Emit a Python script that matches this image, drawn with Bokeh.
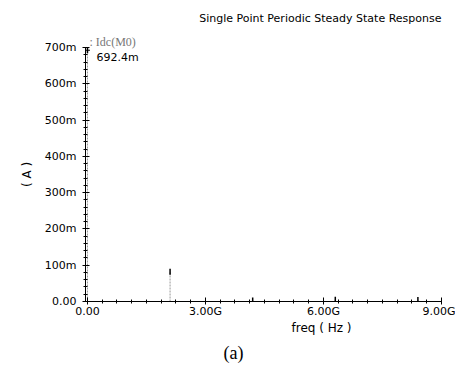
from bokeh.plotting import figure
from bokeh.models import Range1d, FixedTicker, Label, Title
from bokeh.embed import file_html
from bokeh.resources import INLINE
import math

# Data
freq_hz = [0.0, 2.1e9, 4.2e9, 6.3e9, 8.4e9]
idc_a = [0.6924, 0.082, 0.003, 0.005, 0.004]
x_ticks = [0, 3e9, 6e9, 9e9]
x_tick_labels = ["0.00", "3.00G", "6.00G", "9.00G"]
y_ticks = [0.0, 0.1, 0.2, 0.3, 0.4, 0.5, 0.6, 0.7]
y_tick_labels = ["0.00", "100m", "200m", "300m", "400m", "500m", "600m", "700m"]
title_text = "Single Point Periodic Steady State Response"
legend_text = ": Idc(M0)"
marker_text = "692.4m"

FONT = "DejaVu Sans"
FL = 85

p = figure(width=455, height=370, output_backend="svg", toolbar_location=None,
           x_range=Range1d(-0.05e9, 9e9), y_range=Range1d(0, 0.70),
           min_border_left=FL, min_border_right=14, min_border_top=47,
           min_border_bottom=69)
p.outline_line_color = None
p.xgrid.visible = False
p.ygrid.visible = False
p.background_fill_color = "white"
p.border_fill_color = "white"

for ax in (p.xaxis[0], p.yaxis[0]):
    ax.axis_line_color = "black"
    ax.major_tick_line_color = "black"
    ax.minor_tick_line_color = "black"
    ax.major_tick_in = 4
    ax.major_tick_out = 3
    ax.minor_tick_in = 2
    ax.minor_tick_out = 2
    ax.major_label_text_font = FONT
    ax.major_label_text_font_size = "11px"
    ax.major_label_text_color = "black"

p.xaxis.ticker = FixedTicker(ticks=x_ticks,
                             minor_ticks=[i * 0.375e9 for i in range(25)])
p.xaxis.major_label_overrides = {t: l for t, l in zip(x_ticks, x_tick_labels)}
p.xaxis.major_label_standoff = 0

p.yaxis.ticker = FixedTicker(ticks=y_ticks,
                             minor_ticks=[i * 0.02 for i in range(36)])
p.yaxis.major_label_overrides = {t: l for t, l in zip(y_ticks, y_tick_labels)}
p.yaxis.major_label_standoff = 6
p.yaxis.axis_label = "( A )"
p.yaxis.axis_label_text_font = FONT
p.yaxis.axis_label_text_font_size = "12px"
p.yaxis.axis_label_text_font_style = "normal"
p.yaxis.axis_label_text_color = "black"
p.yaxis.axis_label_standoff = 8

# stems
p.segment(x0=freq_hz, y0=[0] * len(freq_hz), x1=freq_hz, y1=idc_a,
          line_color="#999999", line_dash="2 1", line_width=1)
p.scatter(x=freq_hz, y=idc_a, marker="dash", angle=math.pi / 2, size=6,
          line_color="black", line_width=1.5)
p.scatter(x=freq_hz[:1], y=idc_a[:1], marker="dash", size=5,
          line_color="black", line_width=1)

p.add_layout(Label(x=96, y=57, x_units="canvas", y_units="canvas", text=marker_text,
                   text_font=FONT, text_font_size="11px", text_color="black",
                   text_baseline="middle"))

# above panels: legend (nearest to frame), then chart title
p.add_layout(Title(text=legend_text, align="left", offset=4, standoff=-2,
                   text_font="Liberation Serif", text_font_size="12px",
                   text_font_style="normal", text_color="#777777"), "above")
p.add_layout(Title(text=title_text, align="right", offset=0, standoff=18,
                   text_font=FONT, text_font_size="11px",
                   text_font_style="normal", text_color="black"), "above")

# below panels: x axis label, then caption
p.add_layout(Title(text="freq ( Hz )", align="left", offset=206, standoff=-3,
                   text_font=FONT, text_font_size="12px",
                   text_font_style="normal", text_color="black"), "below")
p.add_layout(Title(text="(a)", align="left", offset=138, standoff=14,
                   text_font="Liberation Serif", text_font_size="18px",
                   text_font_style="normal", text_color="black"), "below")

open("out.html", "w").write(file_html(p, INLINE))
